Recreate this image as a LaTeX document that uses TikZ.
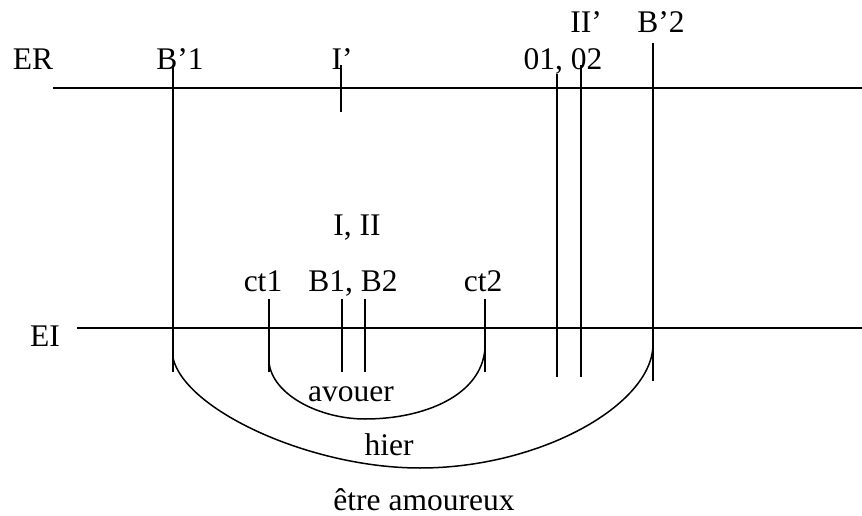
\documentclass[tikz,border=0pt]{standalone}
\usepackage{fontspec}
\setmainfont{Liberation Serif}
\begin{document}
\begin{tikzpicture}[x=1pt,y=-1pt,
  lbl/.style={anchor=base,inner sep=0pt,font=\fontsize{31.5}{38}\selectfont},
  ln/.style={line width=1.5pt}]
\useasboundingbox (0,0) rectangle (862,516);
% labels
\node[lbl] (er)  at (33,70) {ER};
\node[lbl] (bp1) at (180,70) {B’1};
\node[lbl] (ip)  at (342,70) {I’};
\node[lbl] (o12) at (563,70) {01, 02};
\node[lbl] (iip) at (586,33) {II’};
\node[lbl] (bp2) at (661,33) {B’2};
\node[lbl] (iii) at (357,235) {I, II};
\node[lbl] (ct1) at (263,291) {ct1};
\node[lbl] (b12) at (353,291) {B1, B2};
\node[lbl] (ct2) at (483,291) {ct2};
\node[lbl] (ei)  at (45,346) {EI};
\node[lbl] (av)  at (351,401) {avouer};
\node[lbl] (hi)  at (389,455) {hier};
\node[lbl] (ea)  at (424,510) {être amoureux};
% axes
\coordinate (erl) at (53,88);  \coordinate (err) at (862,88);
\coordinate (eil) at (77,328); \coordinate (eir) at (862,328);
\draw[ln] (erl) -- (err);
\draw[ln] (eil) -- (eir);
% verticals
\draw[ln] (173,65) -- (173,372);
\draw[ln] (341,65) -- (341,112);
\draw[ln] (557,74) -- (557,377);
\draw[ln] (581,65) -- (581,377);
\draw[ln] (653,43) -- (653,381);
\draw[ln] (269,299) -- (269,372);
\draw[ln] (342,299) -- (342,372);
\draw[ln] (365,299) -- (365,372);
\draw[ln] (485,299) -- (485,372);
% inner arc
\draw[ln] (269,362) .. controls (272,395) and (320,419) .. (365,419)
                    .. controls (425,419) and (482,395) .. (485,348);
% outer arc
\draw[ln] (173,358) .. controls (185,410) and (310,468) .. (420,468)
                    .. controls (540,468) and (652,405) .. (653,345);
\end{tikzpicture}
\end{document}
